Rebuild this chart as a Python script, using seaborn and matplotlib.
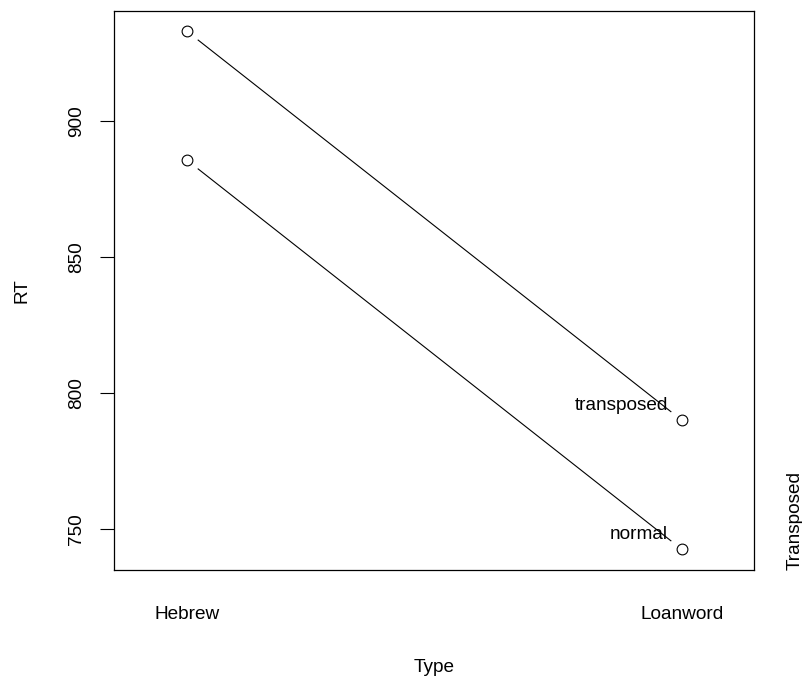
import pandas as pd
import seaborn as sns
import matplotlib.pyplot as plt

# cell means
types = ['Hebrew', 'Loanword']
transposed_rt = [933.1, 790.1]
normal_rt = [885.7, 742.6]

data = pd.DataFrame({
    'Type': types * 2,
    'RT': transposed_rt + normal_rt,
    'Transposed': ['transposed'] * 2 + ['normal'] * 2,
})

sns.set_style('white')
plt.rcParams['font.family'] = ['Liberation Sans', 'DejaVu Sans']
plt.rcParams['text.color'] = 'black'
plt.rcParams['xtick.color'] = 'black'
plt.rcParams['ytick.color'] = 'black'
plt.rcParams['axes.labelcolor'] = 'black'
fs = 13.7

fig = plt.figure(figsize=(8.03, 6.77), dpi=100)
ax = fig.add_axes([0.142, 0.158, 0.797, 0.826])

# lines, then white discs to open gaps around the points (R type="b")
sns.lineplot(data=data, x='Type', y='RT', hue='Transposed',
             palette=['black', 'black'], linewidth=0.8, legend=False,
             ax=ax, zorder=1)
sns.scatterplot(data=data, x='Type', y='RT', s=370, color='white',
                edgecolor='none', legend=False, ax=ax, zorder=2)
sns.scatterplot(data=data, x='Type', y='RT', s=60, facecolor='white',
                edgecolor='black', linewidth=0.8, legend=False, ax=ax,
                zorder=3)

# level labels next to the last points
for lvl, vals in [('transposed', transposed_rt), ('normal', normal_rt)]:
    ax.annotate(lvl, xy=(1, vals[-1]), xytext=(-14, 10),
                textcoords='offset pixels', ha='right', va='baseline',
                fontsize=fs, zorder=4)

ax.set_xlim(-0.148, 1.146)
ax.set_ylim(735.0, 940.7)
ax.set_xticks([0, 1])
ax.set_xticklabels(types)
ax.set_yticks([750, 800, 850, 900])
ax.set_yticklabels(['750', '800', '850', '900'], rotation=90, va='center')
ax.tick_params(axis='x', length=0, pad=26, labelsize=fs)
ax.tick_params(axis='y', left=True, length=10, width=0.8, pad=11,
               labelsize=fs)

ax.set_xlabel('Type', fontsize=fs, labelpad=26)
ax.set_ylabel('RT', fontsize=fs, labelpad=27)

for sp in ax.spines.values():
    sp.set_color('black')
    sp.set_linewidth(0.9)

ax.text(1.064, 0, 'Transposed', transform=ax.transAxes, rotation=90,
        ha='center', va='bottom', fontsize=fs)

fig.savefig('out.png', dpi=100)
